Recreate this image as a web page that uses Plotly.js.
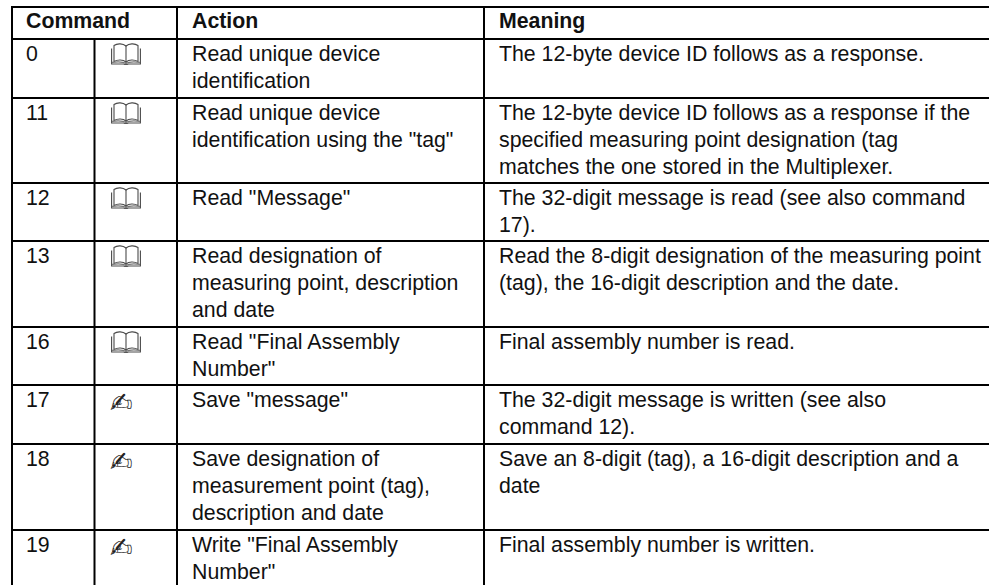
<!DOCTYPE html>
<html>
<head>
<meta charset="utf-8">
<script src="https://cdn.plot.ly/plotly-3.0.1.min.js"></script>
<style>html,body{margin:0;padding:0;background:#fff}#chart{width:989px;height:585px}</style>
</head>
<body>
<div id="chart"></div>
<script>
// ---- table content ----
var headers = ["Command", "Action", "Meaning"];
var commands = ["0", "11", "12", "13", "16", "17", "18", "19"];
var access = ["read", "read", "read", "read", "read", "write", "write", "write"];
var actions = [
  "Read unique device<br>identification",
  "Read unique device<br>identification using the \"tag\"",
  "Read \"Message\"",
  "Read designation of<br>measuring point, description<br>and date",
  "Read \"Final Assembly<br>Number\"",
  "Save \"message\"",
  "Save designation of<br>measurement point (tag),<br>description and date",
  "Write \"Final Assembly<br>Number\""
];
var meanings = [
  "The 12-byte device ID follows as a response.",
  "The 12-byte device ID follows as a response if the<br>specified measuring point designation (tag<br>matches the one stored in the Multiplexer.",
  "The 32-digit message is read (see also command<br>17).",
  "Read the 8-digit designation of the measuring point<br>(tag), the 16-digit description and the date.",
  "Final assembly number is read.",
  "The 32-digit message is written (see also<br>command 12).",
  "Save an 8-digit (tag), a 16-digit description and a<br>date",
  "Final assembly number is written."
];

// ---- grid geometry (axis units = pixels of the 989x585 canvas) ----
var hLines = [7, 39, 98, 183, 241, 327, 385, 444, 530];
var vLines = [12, 94.5, 177, 484];
var xMax = 989, yMax = 585;
var cmdX = 26, iconX = 111, actionX = 192, meaningX = 499;
var textDrop = 6.5, headDrop = 5, lineStep = 26.8;
var fontSize = 21.3;
var fontFam = '"Liberation Sans", Arial, Helvetica, sans-serif';
var ink = "#111111";

// grid line trace
var gx = [], gy = [];
hLines.forEach(function (y) { gx.push(11, xMax, null); gy.push(y, y, null); });
vLines.forEach(function (x, i) {
  var start = (i === 1) ? hLines[1] : hLines[0];
  gx.push(x, x, null); gy.push(start, yMax, null);
});

var rowTops = hLines.slice(1);

function textTrace(xs, ys, texts, name) {
  return {
    type: "scatter", mode: "text", x: xs, y: ys, text: texts, name: name,
    textposition: "bottom right", hoverinfo: "skip", showlegend: false,
    textfont: { family: fontFam, size: fontSize, color: ink }
  };
}
// one point per printed line, so the line pitch follows the reference
function columnTrace(x, cells, name) {
  var xs = [], ys = [], ts = [];
  cells.forEach(function (cell, r) {
    cell.split("<br>").forEach(function (line, k) {
      xs.push(x); ys.push(rowTops[r] + textDrop + k * lineStep); ts.push(line);
    });
  });
  return textTrace(xs, ys, ts, name);
}

var penX = [], penY = [], penT = [];
access.forEach(function (a, i) {
  if (a === "write") { penX.push(iconX - 1); penY.push(rowTops[i] + 6.5); penT.push("\u270D"); }
});

var traces = [
  { type: "scatter", mode: "lines", x: gx, y: gy, hoverinfo: "skip", showlegend: false,
    line: { color: "#000000", width: 2 }, name: "grid" },
  textTrace([cmdX, actionX, meaningX], headers.map(function () { return hLines[0] + headDrop; }),
            headers.map(function (h) { return "<b>" + h + "</b>"; }), "header"),
  columnTrace(cmdX, commands, "command"),
  columnTrace(actionX, actions, "action"),
  columnTrace(meaningX, meanings, "meaning"),
  { type: "scatter", mode: "text", x: penX, y: penY, text: penT, name: "write",
    textposition: "bottom right", hoverinfo: "skip", showlegend: false,
    textfont: { family: "DejaVu Sans", size: 27, color: "#222222" } }
];

// open-book icon
var bookSvg = '<svg xmlns="http://www.w3.org/2000/svg" width="30" height="22" viewBox="0 0 30 22">' +
  '<g fill="none" stroke="#4a4a4a" stroke-width="1.1">' +
  '<path d="M0.6 5.5V21H12.5L15 21.8L17.5 21H29.4V5.5"/>' +
  '<path d="M3 18.5V2.5C6.5 0 12 0.5 15 3C18 0.5 23.5 0 27 2.5V18.5C23.5 16.5 18 16.5 15 19C12 16.5 6.5 16.5 3 18.5Z" fill="#fff"/>' +
  '<path d="M15 3V20"/><path d="M1 19.3C7 18.6 12 18.6 15 20.5C18 18.6 23 18.6 29 19.3" stroke="#777" stroke-width="1.3"/>' +
  '</g></svg>';
var bookUri = "data:image/svg+xml;utf8," + encodeURIComponent(bookSvg);
var images = [];
access.forEach(function (a, i) {
  if (a === "read") {
    images.push({ source: bookUri, xref: "x", yref: "y", x: iconX, y: rowTops[i] + 4,
      sizex: 30, sizey: 22, xanchor: "left", yanchor: "top", sizing: "stretch", layer: "above" });
  }
});

var layout = {
  width: 989, height: 585, margin: { l: 0, r: 0, t: 0, b: 0 },
  paper_bgcolor: "#ffffff", plot_bgcolor: "#ffffff", showlegend: false,
  xaxis: { range: [0, xMax], visible: false, fixedrange: true },
  yaxis: { range: [yMax, 0], visible: false, fixedrange: true },
  images: images
};
Plotly.newPlot("chart", traces, layout, { displayModeBar: false, staticPlot: true });
</script>
</body>
</html>
